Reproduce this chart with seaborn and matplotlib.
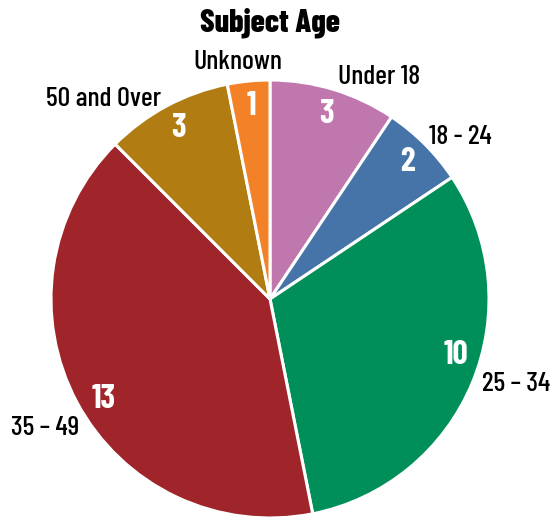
import matplotlib
matplotlib.use("Agg")
import matplotlib.pyplot as plt
import numpy as np
import seaborn as sns

categories = ["Under 18", "18 - 24", "25 \u2013 34", "35 \u2013 49", "50 and Over", "Unknown"]
counts = [3, 2, 10, 13, 3, 1]
colors_hex = ["#bf77ad", "#4674a9", "#008f58", "#a0252a", "#b17d12", "#f28127"]

# label layout tweaks (degrees offset from wedge middle, distance in radii)
label_angle_off = [-9.3, -4.6, 3.5, 1.7, 11.6, 2.1]
label_dist = [1.128, 1.14, 1.19, 1.185, 1.19, 1.09]
value_angle_off = [0, 0, 5.7, 2.9, 0, 0]
value_dist = 0.885

sns.set_theme(style="white")
FONT = ["Barlow Condensed", "Roboto Condensed", "DejaVu Sans"]
plt.rcParams["font.family"] = FONT
plt.rcParams["text.color"] = "black"

palette = sns.color_palette(colors_hex)

W, H = 553, 521
fig = plt.figure(figsize=(W / 100, H / 100), dpi=100)
cx, cy, r = 270, 299, 219
ax = fig.add_axes([(cx - r) / W, (H - cy - r) / H, 2 * r / W, 2 * r / H])

wedges, _ = ax.pie(
    counts,
    colors=palette,
    startangle=90,
    counterclock=False,
    wedgeprops=dict(edgecolor="white", linewidth=2.2),
)
ax.set_xlim(-1, 1)
ax.set_ylim(-1, 1)

for i, w in enumerate(wedges):
    mid = np.deg2rad((w.theta1 + w.theta2) / 2)
    a = mid + np.deg2rad(value_angle_off[i])
    ax.text(value_dist * np.cos(a), value_dist * np.sin(a), f"{counts[i]}",
            ha="center", va="center", color="white", fontsize=24,
            fontweight="bold", clip_on=False)
    b = mid + np.deg2rad(label_angle_off[i])
    ax.text(label_dist[i] * np.cos(b), label_dist[i] * np.sin(b), categories[i],
            ha="center", va="center", color="black", fontsize=20,
            fontweight="medium", clip_on=False)

fig.text(cx / W, 1 - 31 / H, "Subject Age", ha="center", va="baseline",
         fontsize=23, fontweight="heavy", color="black")

fig.savefig("out.png", dpi=100)
